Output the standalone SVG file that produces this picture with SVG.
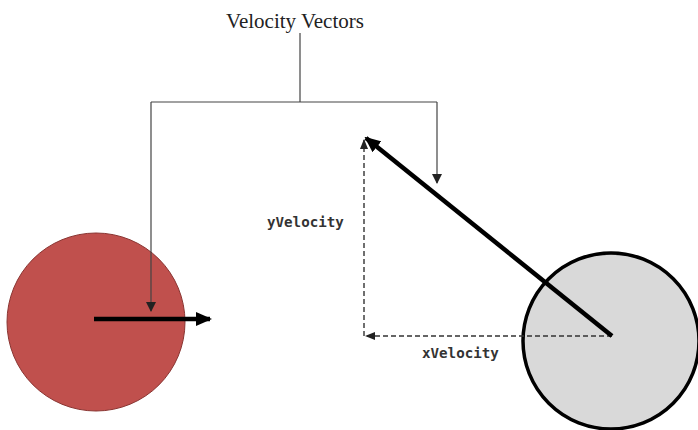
<svg xmlns="http://www.w3.org/2000/svg" width="698" height="430" viewBox="0 0 698 430">
<defs>
<marker id="thin" markerWidth="10" markerHeight="10" refX="9" refY="5" orient="auto" markerUnits="userSpaceOnUse"><path d="M0,0 L10,5 L0,10 Z" fill="#222"/></marker>
<marker id="dash" markerWidth="10" markerHeight="10" refX="9" refY="5" orient="auto" markerUnits="userSpaceOnUse"><path d="M0,1 L10,5 L0,9 Z" fill="#222"/></marker>
<marker id="thick" markerWidth="16" markerHeight="14" refX="14" refY="7" orient="auto" markerUnits="userSpaceOnUse"><path d="M0,0 L16,7 L0,14 Z" fill="#000"/></marker>
</defs>
<style>
.lbl{font-family:"Liberation Serif","Times New Roman",serif;font-size:21px;fill:#222}
.mono{font-family:"DejaVu Sans Mono","Liberation Mono",monospace;font-size:14.2px;font-weight:bold;fill:#333}
.thin{stroke:#444;stroke-width:1.2;fill:none}
.dashed{stroke:#333;stroke-width:1.4;stroke-dasharray:5,3;fill:none}
.vec{stroke:#000;stroke-width:4.5;fill:none}
</style>
<rect width="698" height="430" fill="#fff"/>
<g id="red-ball"><circle cx="96" cy="322" r="89" fill="#c0504d" stroke="#8a3532" stroke-width="1"/></g>
<g id="gray-ball"><circle cx="611" cy="341" r="88" fill="#d9d9d9" stroke="#000" stroke-width="3.5"/></g>
<g id="title"><text class="lbl" x="295" y="28" text-anchor="middle">Velocity Vectors</text></g>
<g id="ylabel"><text class="mono" x="267" y="227">yVelocity</text></g>
<g id="xlabel"><text class="mono" x="422" y="358">xVelocity</text></g>
<g id="connectors">
<path class="thin" d="M300,33 V102 M151,102 H437"/>
<path class="thin" d="M151,102 V311" marker-end="url(#thin)"/>
<path class="thin" d="M437,102 V183" marker-end="url(#thin)"/>
<path class="dashed" d="M612,336 H366" marker-end="url(#dash)"/>
<path class="dashed" d="M364,336 V140" marker-end="url(#dash)"/>
<path class="vec" d="M612,336 L366,138" marker-end="url(#thick)"/>
<path class="vec" d="M94,319 H210" marker-end="url(#thick)"/>
</g>
</svg>
